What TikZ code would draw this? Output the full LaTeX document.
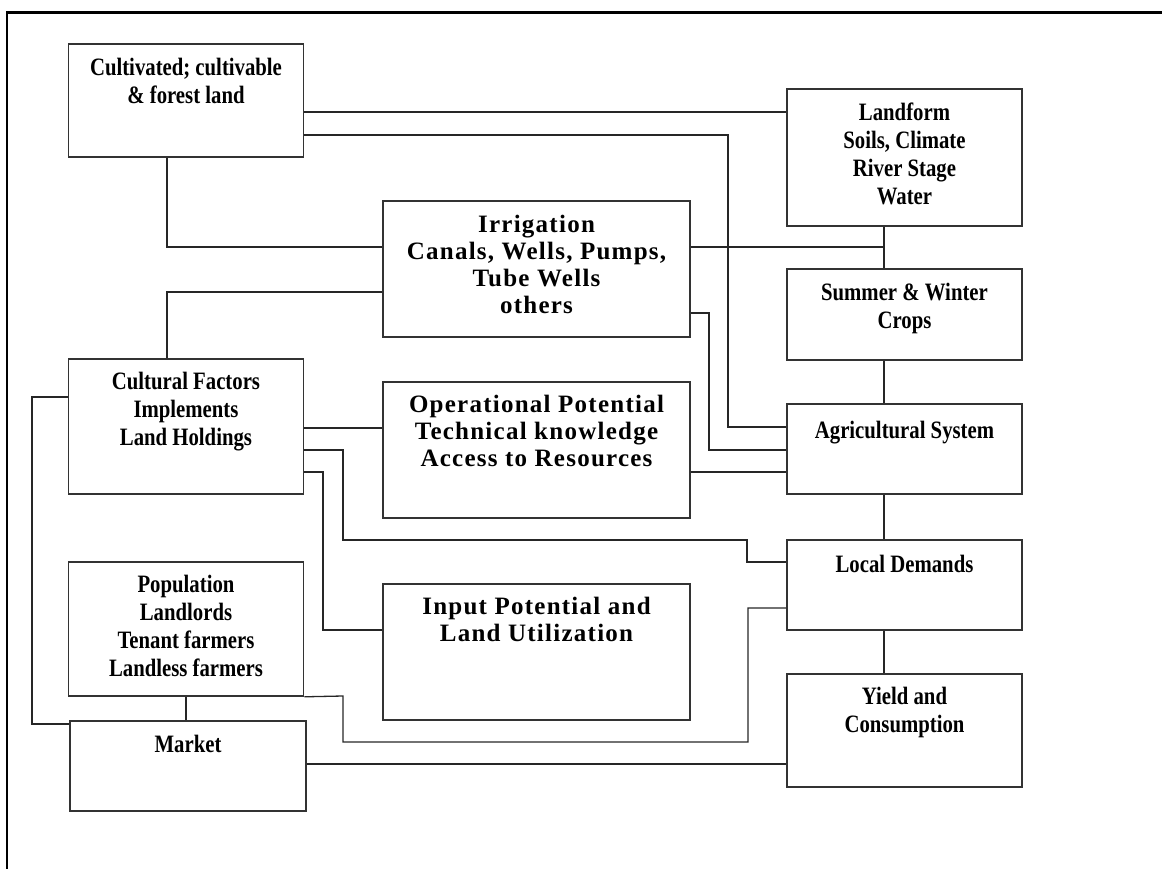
\documentclass[tikz,border=0pt]{standalone}
\usepackage{fontspec}
\newfontfamily\narrowserif[FakeStretch=0.83]{Liberation Serif}
\newfontfamily\spacedserif[LetterSpace=5]{Liberation Serif}
\newcommand\sidetext{\narrowserif\bfseries\fontsize{25}{28}\selectfont}
\newcommand\midtext{\spacedserif\bfseries\fontsize{25}{27}\selectfont}
\begin{document}
\begin{tikzpicture}[x=1pt, y=-1pt,
    box/.style={draw=black!80, line width=1.6pt, minimum width=235pt, inner sep=0pt},
    link/.style={draw=black!85, line width=1.3pt},
    side/.style={align=center, anchor=north, inner sep=0pt, font=\sidetext},
    mid/.style={align=center, anchor=north, inner sep=0pt, font=\midtext}]
    \useasboundingbox (0,0) rectangle (1162,869);
    \draw[line width=2.6pt] (7,869) -- (7,12.7) -- (1162,12.7);

    \draw (186,100.5) node[box, minimum height=113pt](cult){}
       (904.5,157.5) node[box, minimum height=137pt](land){}
       (536.5,269) node[box, minimum width=307pt, minimum height=136pt](irr){}
       (904.5,314.5) node[box, minimum height=91pt](crops){}
       (186,426.5) node[box, minimum height=135pt](cultf){}
       (536.5,450) node[box, minimum width=307pt, minimum height=136pt](oper){}
       (904.5,449) node[box, minimum height=90pt](agri){}
       (904.5,585) node[box, minimum height=90pt](demand){}
       (186,629) node[box, minimum height=134pt](pop){}
       (536.5,652) node[box, minimum width=307pt, minimum height=136pt](inpot){}
       (188,766) node[box, minimum width=236pt, minimum height=90pt](market){}
       (904.5,730.5) node[box, minimum height=113pt](yield){};

    \node[side] (cult-t) at ([yshift=-15pt]cult.north) {Cultivated; cultivable\\\& forest land};
    \node[side] (land-t) at ([yshift=-14pt]land.north) {Landform\\Soils, Climate\\River Stage\\Water};
    \node[mid] (irr-t) at ([yshift=-15pt]irr.north) {Irrigation\\Canals, Wells, Pumps,\\Tube Wells\\others};
    \node[side] (crops-t) at ([yshift=-15pt]crops.north) {Summer \& Winter\\Crops};
    \node[side] (cultf-t) at ([yshift=-14pt]cultf.north) {Cultural Factors\\Implements\\Land Holdings};
    \node[mid] (oper-t) at ([yshift=-14pt]oper.north) {Operational Potential\\Technical knowledge\\Access to Resources};
    \node[side] (agri-t) at ([yshift=-18pt]agri.north) {Agricultural System};
    \node[side] (demand-t) at ([yshift=-16pt]demand.north) {Local Demands};
    \node[side] (pop-t) at ([yshift=-14pt]pop.north) {Population\\Landlords\\Tenant farmers\\Landless farmers};
    \node[mid] (inpot-t) at ([yshift=-14pt]inpot.north) {Input Potential and\\Land Utilization};
    \node[side] (market-t) at ([yshift=-15pt]market.north) {Market};
    \node[side] (yield-t) at ([yshift=-14pt]yield.north) {Yield and\\Consumption};

    \draw[link] (cult.east |- 0,112) -- (land.west |- 0,112);
    \draw[link] (cult.east |- 0,135) -- (728,135) |- (agri.west |- 0,427);
    \draw[link] (cult.south -| 167,0) |- (irr.west |- 0,247);
    \draw[link] (irr.east |- 0,247) -- (884,247);
    \draw[link] (land.south -| 884,0) -- (crops.north -| 884,0);
    \draw[link] (crops.south -| 884,0) -- (agri.north -| 884,0);
    \draw[link] (irr.west |- 0,292) -| (cultf.north -| 167,0);
    \draw[link] (irr.east |- 0,313) -- (709,313) |- (agri.west |- 0,450);
    \draw[link] (oper.east |- 0,472) -- (agri.west |- 0,472);
    \draw[link] (cultf.east |- 0,428) -- (oper.west |- 0,428);
    \draw[link] (cultf.east |- 0,450) -- (343,450) |- (747,540) |- (demand.west |- 0,562);
    \draw[link] (cultf.east |- 0,472) -- (323,472) |- (inpot.west |- 0,630);
    \draw[link] (agri.south -| 884,0) -- (demand.north -| 884,0);
    \draw[link] (demand.south -| 884,0) -- (yield.north -| 884,0);
    \draw[link] (pop.south east) -- (343,696) |- (748,742) |- (demand.west |- 0,608);
    \draw[link] (pop.south) -- (pop.south |- market.north);
    \draw[link] (cultf.west |- 0,397) -- (32,397) |- (market.west |- 0,724);
    \draw[link] (market.east |- 0,764) -- (yield.west |- 0,764);
\end{tikzpicture}
\end{document}
